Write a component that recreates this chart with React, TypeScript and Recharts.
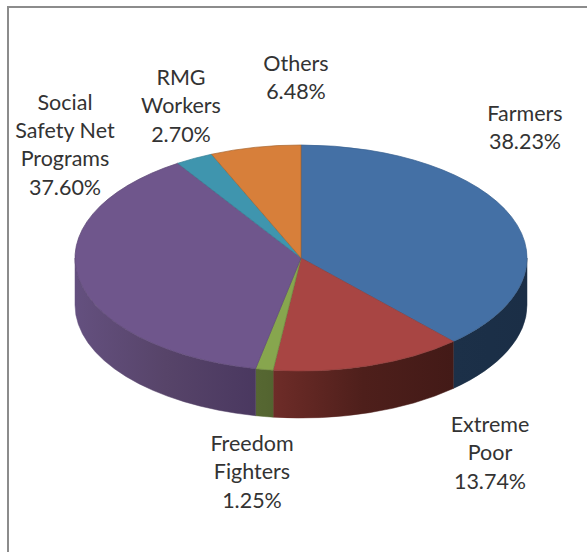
import { PieChart, Pie } from 'recharts'

const NAMES = ['Farmers', 'Extreme Poor', 'Freedom Fighters', 'Social Safety Net Programs', 'RMG Workers', 'Others']
const VALUES = [38.23, 13.74, 1.25, 37.6, 2.7, 6.48]

const TOP_COLORS = ['#4470a5', '#a84543', '#87a64e', '#6f568c', '#3f95ae', '#d77f3a']
const EDGE_COLORS = ['#3a6190', '#8f3c3a', '#6f8a40', '#5d4876', '#357f95', '#a8652f']
const SIDE_LEFT = ['#1c3048', '#6e2c28', '#566732', '#64507f', '#2a6273', '#8c5226']
const SIDE_MID = ['#1b2f47', '#4e1f1b', '#556631', '#574469', '#2a6273', '#8c5226']
const SIDE_RIGHT = ['#1b2e46', '#431a17', '#536430', '#4a3860', '#2a6273', '#8c5226']

// wrapped label lines, with the centre of each label block
const LABEL_LINES = [['Farmers'], ['Extreme', 'Poor'], ['Freedom', 'Fighters'], ['Social', 'Safety Net', 'Programs'], ['RMG', 'Workers'], ['Others']]
const LABEL_X = [525, 490, 252, 65, 181, 296]
const LABEL_Y = [113, 424, 443, 101.5, 77, 62.5]

const chartData = NAMES.map((name, i) => ({ name, value: VALUES[i] }))

// the pie is tilted: the vertical radius is squashed and the rim has a depth
const SQUASH = 0.5
const DEPTH = 47

const rad = (a: number) => (a * Math.PI) / 180

function Slice3D(props: any) {
  const { cx, cy, outerRadius, startAngle, endAngle, name } = props
  const i = NAMES.indexOf(name)
  const rx = outerRadius
  const ry = outerRadius * SQUASH
  const px = (a: number) => cx + rx * Math.cos(rad(a))
  const py = (a: number) => cy - ry * Math.sin(rad(a))
  const large = startAngle - endAngle > 180 ? 1 : 0
  const top = `M${cx},${cy} L${px(startAngle)},${py(startAngle)} A${rx},${ry} 0 ${large} 1 ${px(endAngle)},${py(endAngle)} Z`

  // only the front half of the rim can be seen
  const s = Math.min(startAngle, 0)
  const e = Math.max(endAngle, -180)
  const gradId = `side-${i}`
  return (
    <g>
      {s > e && (
        <>
          <defs>
            <linearGradient id={gradId} x1="0" y1="0" x2="1" y2="0">
              <stop offset="0%" stopColor={SIDE_LEFT[i]} />
              <stop offset="50%" stopColor={SIDE_MID[i]} />
              <stop offset="100%" stopColor={SIDE_RIGHT[i]} />
            </linearGradient>
          </defs>
          <path
            d={`M${px(s)},${py(s)} A${rx},${ry} 0 0 1 ${px(e)},${py(e)} L${px(e)},${py(e) + DEPTH} A${rx},${ry} 0 0 0 ${px(s)},${py(s) + DEPTH} Z`}
            fill={`url(#${gradId})`}
            stroke={`url(#${gradId})`}
            strokeWidth={0.5}
          />
        </>
      )}
      <path d={top} fill={TOP_COLORS[i]} stroke={EDGE_COLORS[i]} strokeWidth={0.7} strokeLinejoin="round" />
    </g>
  )
}

function renderLabel(props: any) {
  const i = NAMES.indexOf(props.name)
  const lines = [...LABEL_LINES[i], `${VALUES[i].toFixed(2)}%`]
  return (
    <text
      key={props.name}
      x={LABEL_X[i]}
      y={LABEL_Y[i]}
      textAnchor="middle"
      dominantBaseline="central"
      fontFamily="Lato"
      fontSize={21.5}
      fill="#333"
    >
      {lines.map((line, j) => (
        <tspan key={j} x={LABEL_X[i]} dy={j === 0 ? 0 : 28.4}>
          {line}
        </tspan>
      ))}
    </text>
  )
}

export default function App() {
  return (
    <div style={{ position: 'absolute', left: 0, top: 0, width: 587, height: 552, overflow: 'hidden', background: '#fff' }}>
      <div
        style={{
          position: 'absolute',
          left: 7,
          top: 6,
          width: 590,
          height: 560,
          borderLeft: '2px solid #8c8c8c',
          borderTop: '2px solid #8c8c8c',
        }}
      />
      <div style={{ position: 'absolute', left: 0, top: 0 }}>
        <PieChart width={587} height={552} margin={{ top: 0, right: 0, bottom: 0, left: 0 }}>
          <Pie
            data={chartData}
            dataKey="value"
            nameKey="name"
            cx={301}
            cy={258}
            outerRadius={226}
            startAngle={90}
            endAngle={-270}
            stroke="none"
            isAnimationActive={false}
            labelLine={false}
            label={renderLabel}
            shape={Slice3D}
          />
        </PieChart>
      </div>
    </div>
  )
}
